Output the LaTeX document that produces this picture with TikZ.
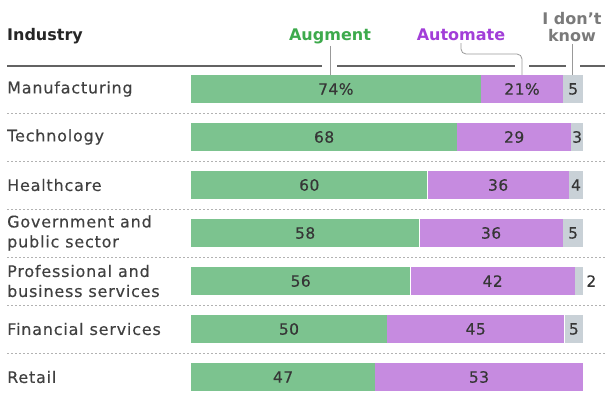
\documentclass[tikz,border=0pt]{standalone}
\usepackage{fontspec}
\setmainfont{DejaVu Sans}
\usetikzlibrary{positioning, calc}
\definecolor{auggreen}{HTML}{7CC38F}
\definecolor{autopurple}{HTML}{C68BE0}
\definecolor{idkgray}{HTML}{C9D1D7}
\definecolor{auglabel}{HTML}{3DAA4C}
\definecolor{autolabel}{HTML}{A23ED8}
\definecolor{idklabel}{HTML}{7A7A7A}
\definecolor{textgray}{HTML}{404040}
\definecolor{rulegray}{HTML}{636363}

\begin{document}
\begin{tikzpicture}[
    x=1pt, y=-1pt,
    rowlabel/.style={anchor=west, inner sep=0pt, align=left, text=textgray, font=\fontsize{16}{20}\selectfont\addfontfeature{LetterSpace=5,FakeBold=0.3}},
    keylabel/.style={inner sep=0pt, align=center, font=\fontsize{16}{17}\selectfont\bfseries},
    bar/.style={anchor=west, inner sep=0pt, minimum height=28pt, text=textgray!85!black, font=\fontsize{15.5}{15.5}\selectfont\addfontfeature{LetterSpace=3,FakeBold=0.3}},
    augbar/.style={bar, fill=auggreen, minimum width=#1*3.91pt},
    autobar/.style={bar, fill=autopurple, minimum width=#1*3.91pt},
    idkbar/.style={bar, fill=idkgray, minimum width=#1*3.91pt},
    leader/.style={draw=gray!80, line width=0.8pt},
    rule/.style={draw=rulegray, line width=1.5pt},
    sep/.style={draw=gray!60, line width=0.9pt, dash pattern=on 2pt off 2pt}
]
\useasboundingbox (0,0) rectangle (605,394);

% header
\node[keylabel, anchor=west, text=black!85] (industry) at (7,36) {Industry};
\node[keylabel, text=auglabel] (aug) at (330,36) {Augment};
\node[keylabel, text=autolabel] (auto) at (461,35) {Automate};
\node[keylabel, text=idklabel] (idk) at (572,27) {I don’t\\know};
\draw[rule] (7,66) -- (322,66) (337,66) -- (515,66) (529,66) -- (566,66) (580,66) -- (605,66);

% rows
\node[rowlabel] (mfg) at (7,89) {Manufacturing};
\node[augbar=74] (mfgA) at (191,89) {74\%};
\node[autobar=21] (mfgB) at (mfgA.east) {21\%};
\node[idkbar=5] (mfgC) at (mfgB.east) {5};

\node[rowlabel] (tech) at (7,137) {Technology};
\node[augbar=68] (techA) at (191,137) {68};
\node[autobar=29] (techB) at (techA.east) {29};
\node[idkbar=3] (techC) at (techB.east) {3};

\node[rowlabel] (health) at (7,185) {Healthcare};
\node[augbar=60.4] (healthA) at (191,185) {60};
\node[autobar=36] (healthB) at (healthA.east) {36};
\node[idkbar=3.6] (healthC) at (healthB.east) {4};

\node[rowlabel] (gov) at (7,233) {Government and\\public sector};
\node[augbar=58.3] (govA) at (191,233) {58};
\node[autobar=36.6] (govB) at (govA.east) {36};
\node[idkbar=5.1] (govC) at (govB.east) {5};

\node[rowlabel] (pro) at (7,281) {Professional and\\business services};
\node[augbar=56] (proA) at (191,281) {56};
\node[autobar=42] (proB) at (proA.east) {42};
\node[idkbar=2] (proC) at (proB.east) {};
\node[bar, right=3pt of proC] (proD) {2};

\node[rowlabel] (fin) at (7,329) {Financial services};
\node[augbar=50] (finA) at (191,329) {50};
\node[autobar=45.3] (finB) at (finA.east) {45};
\node[idkbar=4.7] (finC) at (finB.east) {5};

\node[rowlabel] (retail) at (7,377) {Retail};
\node[augbar=47] (retailA) at (191,377) {47};
\node[autobar=53] (retailB) at (retailA.east) {53};

% separators
\draw[sep] (7,113) -- (605,113);
\draw[sep] (7,161) -- (605,161);
\draw[sep] (7,209) -- (605,209);
\draw[sep] (7,257) -- (605,257);
\draw[sep] (7,305) -- (605,305);
\draw[sep] (7,353) -- (605,353);

% leaders
\coordinate (bend) at (0,54);
\draw[leader] ([yshift=-2pt]aug.south) -- (aug.south |- mfgA.north);
\draw[leader, rounded corners=5pt] ([yshift=-2pt]auto.south) |- (mfgB.north |- bend) -- (mfgB.north);
\draw[leader] ([yshift=-2pt]idk.south) -- (idk.south |- mfgC.north);

\end{tikzpicture}
\end{document}
